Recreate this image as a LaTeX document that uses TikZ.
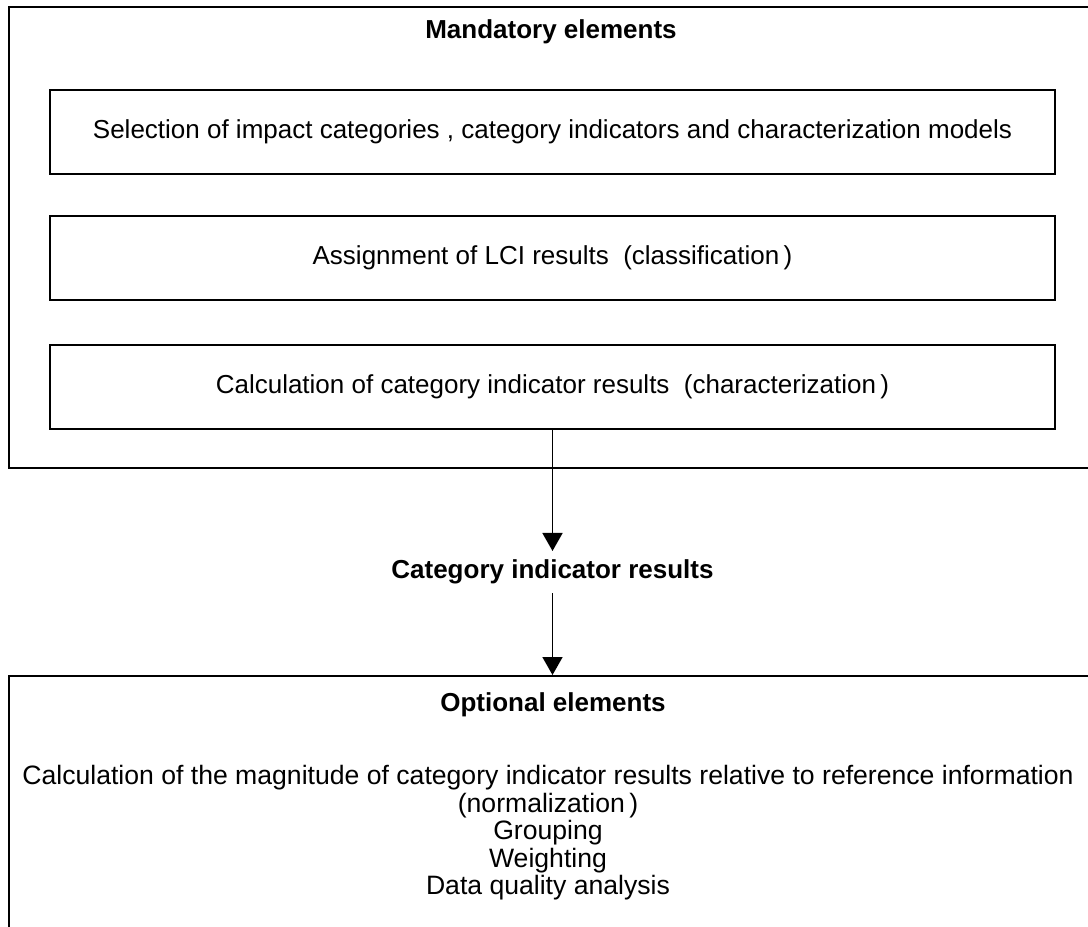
\documentclass[tikz,border=0pt]{standalone}
\usepackage{fontspec}
\setmainfont{Liberation Sans}
\usetikzlibrary{arrows.meta, positioning}

\begin{document}
\begin{tikzpicture}[
            x = 1pt, y = -1pt, % pixel-like units, y downwards
            > = {Triangle[width=20pt, length=18pt]}, % arrow head style
            line width = 1.7pt, % line style
            font = \fontsize{26}{27.5}\selectfont
        ]

        \tikzstyle{frame}=[
            draw = black,
            line width = 2.2pt,
            anchor = north west,
            inner sep = 0pt
        ]
        \tikzstyle{stepbox}=[
            draw = black,
            line width = 2pt,
            minimum width = 1005pt,
            minimum height = 84pt,
            inner sep = 0pt
        ]
        \tikzstyle{title}=[
            font = \fontsize{26}{27.5}\selectfont\bfseries
        ]

        \useasboundingbox (0,0) rectangle (1088,927);
        \clip (0,0) rectangle (1088,927);

        % mandatory part
        \node[frame, minimum width=1100pt, minimum height=461pt] (mand) at (8,6) {};
        \node[title] (mandtitle) at (551,32) {Mandatory elements};
        \node[stepbox] (select) at (552.5,132) {Selection of impact categories , category indicators and characterization models};
        \node[stepbox, below=40pt of select] (assign) {Assignment of LCI results \ (classification\,)};
        \node[stepbox, below=43pt of assign] (calc) {Calculation of category indicator results \ (characterization\,)};

        % result
        \node[title, inner sep=8pt] (cir) at (552.5,572) {Category indicator results};

        % optional part
        \node[frame, minimum width=1100pt, minimum height=300pt] (opt) at (8,675) {};
        \node[title] (opttitle) at (553,705) {Optional elements};
        \node[align=center, font=\fontsize{26.6}{27.5}\selectfont] (optbody) at (548,833) {Calculation of the magnitude of category indicator results relative to reference information\\
            (normalization\,)\\
            Grouping\\
            Weighting\\
            Data quality analysis};

        \path[->] (calc) edge (cir);
        \path[->] (cir) edge (cir |- opt.north);

\end{tikzpicture}
\end{document}
